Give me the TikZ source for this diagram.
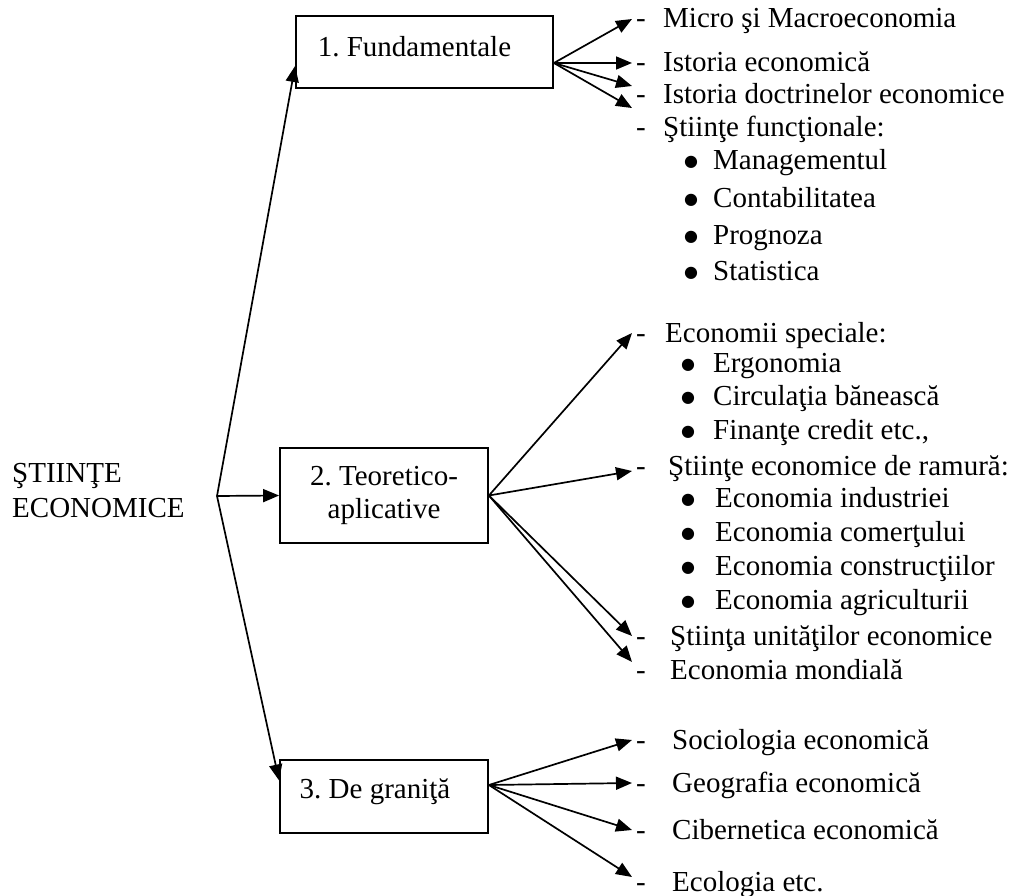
\documentclass[tikz,border=0pt]{standalone}
\usepackage{fontspec}
\setmainfont{Liberation Serif}
\newfontfamily\symfont{DejaVu Sans}
\usetikzlibrary{arrows.meta}
\frenchspacing

% styles for the boxes, the list entries and the arrows
\tikzset{
  box/.style={draw, line width=1.8pt, inner sep=0pt},
  entry/.style={anchor=base west, inner sep=0pt, text height=18pt, text depth=0pt},
  arr/.style={-{Triangle[length=16pt,width=13pt]}, line width=1.7pt},
}

% a dash or a bullet in front of a list entry
\newcommand{\bigdot}{\raisebox{3pt}{\fontsize{16}{16}\symfont ●}}
\newcommand{\itemdash}[2][27pt]{\makebox[#1][l]{-}#2}
\newcommand{\itemdot}[2][29pt]{\makebox[#1][l]{\bigdot}#2}

\begin{document}
\begin{tikzpicture}[x=1pt, y=-1pt, font=\fontsize{29}{33}\selectfont]

    \useasboundingbox (0,0) rectangle (1013,896);

    % Title on the left and the point where the three branches start
    \node[anchor=west, align=left, inner sep=0pt, font=\fontsize{29}{35}\selectfont] (sci) at (12,491) {ŞTIINŢE\\ECONOMICE};
    \coordinate (root) at (217,496);

    % The three boxes
    \node[box, minimum width=257pt, minimum height=72pt, text height=20pt, text depth=10pt] (fund) at (424.5,52) {1. Fundamentale\kern20pt};
    \node[box, minimum width=208pt, minimum height=95pt, align=center] (teor) at (384,495.5) {2. Teoretico-\\aplicative};
    \node[box, minimum width=208pt, minimum height=73pt, text height=20pt, text depth=17pt] (gran) at (384,796.5) {3. De graniţă\kern18pt};

    % Branches from the title
    \draw[arr] (root) -- ([yshift=-14pt]fund.west);
    \draw[arr] (root) -- (teor.west);
    \draw[arr] (root) -- ([yshift=16pt]gran.west);

    % 1. Fundamentale
    \node[entry] (mic) at (636,28) {\itemdash{Micro şi Macroeconomia}};
    \node[entry] (ist) at (636,72) {\itemdash{Istoria economică}};
    \node[entry] (doc) at (636,104) {\itemdash{Istoria doctrinelor economice}};
    \node[entry] (fun) at (636,137) {\itemdash{Ştiinţe funcţionale:}};
    \node[entry] (man) at (684,170) {\itemdot{Managementul}};
    \node[entry] (con) at (684,208) {\itemdot{Contabilitatea}};
    \node[entry] (pro) at (684,245) {\itemdot{Prognoza}};
    \node[entry] (sta) at (684,281) {\itemdot{Statistica}};

    \draw[arr] ([yshift=-11pt]fund.east) -- ([xshift=-4pt]mic.west);
    \draw[arr] ([yshift=-11pt]fund.east) -- ([xshift=-4pt]ist.west);
    \draw[arr] ([yshift=-11pt]fund.east) -- ([xshift=-4pt,yshift=9pt]doc.west);
    \draw[arr] ([yshift=-11pt]fund.east) -- ([xshift=-4pt,yshift=20pt]fun.west);

    % 2. Teoretico-aplicative
    \node[entry] (spe) at (636,342) {\itemdash[29pt]{Economii speciale:}};
    \node[entry] (erg) at (681,373) {\itemdot[32pt]{Ergonomia}};
    \node[entry] (cir) at (681,406) {\itemdot[32pt]{Circulaţia bănească}};
    \node[entry] (fin) at (681,439) {\itemdot[32pt]{Finanţe credit etc.,}};
    \node[entry] (ram) at (636,475) {\itemdash[32pt]{Ştiinţe economice de ramură:}};
    \node[entry] (ind) at (681,507) {\itemdot[34pt]{Economia industriei}};
    \node[entry] (com) at (681,541) {\itemdot[34pt]{Economia comerţului}};
    \node[entry] (cns) at (681,575) {\itemdot[34pt]{Economia construcţiilor}};
    \node[entry] (agr) at (681,609) {\itemdot[34pt]{Economia agriculturii}};
    \node[entry] (uni) at (636,645) {\itemdash[34pt]{Ştiinţa unităţilor economice}};
    \node[entry] (mon) at (636,679) {\itemdash[34pt]{Economia mondială}};

    \draw[arr] (teor.east) -- ([xshift=-4pt]spe.west);
    \draw[arr] (teor.east) -- ([xshift=-4pt,yshift=-5pt]ram.west);
    \draw[arr] (teor.east) -- ([xshift=-4pt]uni.west);
    \draw[arr] (teor.east) -- ([xshift=-4pt,yshift=8pt]mon.west);

    % 3. De granita
    \node[entry] (soc) at (636,749) {\itemdash[36pt]{Sociologia economică}};
    \node[entry] (geo) at (636,792) {\itemdash[36pt]{Geografia economică}};
    \node[entry] (cib) at (636,839) {\itemdash[36pt]{Cibernetica economică}};
    \node[entry] (eco) at (636,891) {\itemdash[36pt]{Ecologia etc.}};

    \draw[arr] ([yshift=11.5pt]gran.east) -- ([xshift=-4pt]soc.west);
    \draw[arr] ([yshift=11.5pt]gran.east) -- ([xshift=-4pt]geo.west);
    \draw[arr] ([yshift=11.5pt]gran.east) -- ([xshift=-4pt]cib.west);
    \draw[arr] ([yshift=11.5pt]gran.east) -- ([xshift=-4pt,yshift=5pt]eco.west);

\end{tikzpicture}
\end{document}
